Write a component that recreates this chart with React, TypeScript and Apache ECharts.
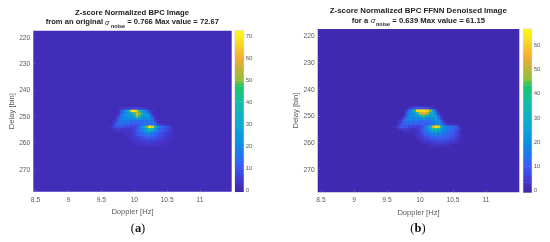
import React, { useEffect, useRef } from "react";
import * as echarts from "echarts";

const dopplerBins = [9.64, 9.68, 9.72, 9.76, 9.8, 9.84, 9.88, 9.92, 9.96, 10, 10.04, 10.08, 10.12, 10.16, 10.2, 10.24, 10.28, 10.32, 10.36, 10.4, 10.44, 10.48, 10.52, 10.56, 10.6, 10.64];
const delayBins = [247, 248, 249, 250, 251, 252, 253, 254, 255, 256, 257, 258, 259, 260, 261];

const originalRows = [
  [1, 1, 1, 1, 3, 4, 5, 5, 6, 6, 6, 6, 5, 4, 3, 1, 1, 1, 1, 1, 1, 1, 1, 1, 1, 1],
  [1, 1, 1, 3, 8, 18, 24, 38, 66, 72, 62, 42, 28, 22, 14, 5, 3, 1, 1, 1, 1, 1, 1, 1, 1, 1],
  [1, 1, 1, 3, 10, 18, 22, 26, 34, 46, 58, 50, 30, 26, 24, 10, 3, 1, 1, 1, 1, 1, 1, 1, 1, 1],
  [1, 1, 3, 6, 14, 20, 22, 24, 26, 28, 52, 40, 26, 24, 26, 20, 6, 3, 1, 1, 1, 1, 1, 1, 1, 1],
  [1, 1, 4, 10, 18, 20, 20, 22, 20, 20, 24, 22, 20, 20, 20, 22, 12, 4, 1, 1, 1, 1, 1, 1, 1, 1],
  [1, 3, 6, 14, 16, 18, 16, 16, 14, 14, 14, 14, 14, 14, 14, 16, 16, 8, 3, 1, 1, 1, 1, 1, 1, 1],
  [1, 4, 10, 14, 14, 14, 12, 12, 10, 10, 10, 10, 12, 14, 14, 14, 16, 12, 5, 3, 3, 2, 2, 1, 1, 1],
  [3, 6, 9, 9, 9, 8, 7, 7, 6, 6, 8, 14, 24, 34, 50, 70, 64, 38, 22, 15, 11, 9, 7, 4, 2, 1],
  [1, 3, 4, 5, 4, 4, 4, 4, 5, 6, 9, 15, 20, 26, 34, 42, 34, 24, 16, 12, 10, 8, 6, 4, 2, 1],
  [1, 1, 2, 3, 3, 3, 3, 3, 4, 6, 9, 13, 16, 20, 24, 24, 20, 16, 12, 10, 8, 6, 5, 3, 2, 1],
  [1, 1, 1, 1, 1, 2, 3, 3, 4, 6, 8, 10, 12, 14, 16, 16, 14, 12, 10, 8, 7, 5, 4, 3, 2, 1],
  [1, 1, 1, 1, 1, 1, 2, 3, 4, 5, 6, 7, 8, 10, 11, 11, 10, 9, 8, 7, 5, 4, 3, 3, 2, 1],
  [1, 1, 1, 1, 1, 1, 1, 2, 3, 3, 4, 5, 6, 6, 7, 7, 7, 6, 5, 5, 4, 3, 3, 2, 1, 1],
  [1, 1, 1, 1, 1, 1, 1, 1, 2, 3, 3, 4, 4, 4, 5, 5, 4, 4, 4, 3, 3, 3, 2, 2, 1, 1],
  [1, 1, 1, 1, 1, 1, 1, 1, 1, 2, 2, 3, 3, 3, 3, 3, 3, 3, 3, 2, 2, 2, 2, 1, 1, 1],
];

const denoisedRows = [
  [0, 0, 0, 0, 0, 3, 6, 8, 8, 8, 8, 7, 6, 4, 2, 0, 0, 0, 0, 0, 0, 0, 0, 0, 0, 0],
  [0, 0, 0, 0, 6, 14, 22, 40, 60, 62, 62, 62, 58, 45, 24, 8, 0, 0, 0, 0, 0, 0, 0, 0, 0, 0],
  [0, 0, 0, 0, 8, 16, 22, 24, 32, 52, 54, 54, 48, 30, 28, 16, 4, 0, 0, 0, 0, 0, 0, 0, 0, 0],
  [0, 0, 0, 3, 12, 18, 20, 22, 24, 28, 44, 40, 28, 24, 26, 24, 10, 2, 0, 0, 0, 0, 0, 0, 0, 0],
  [0, 0, 2, 8, 16, 18, 18, 18, 18, 20, 22, 20, 18, 18, 20, 24, 16, 6, 0, 0, 0, 0, 0, 0, 0, 0],
  [0, 2, 5, 12, 14, 14, 14, 14, 14, 12, 12, 12, 12, 14, 16, 20, 20, 12, 3, 0, 0, 0, 0, 0, 0, 0],
  [0, 3, 8, 12, 12, 12, 10, 10, 10, 10, 10, 10, 10, 12, 14, 18, 20, 16, 8, 2, 2, 2, 1, 0, 0, 0],
  [2, 6, 9, 9, 8, 6, 6, 6, 5, 5, 8, 12, 22, 34, 52, 62, 60, 38, 22, 16, 14, 13, 11, 8, 3, 0],
  [0, 3, 4, 5, 4, 4, 2, 2, 4, 6, 9, 14, 18, 26, 36, 42, 34, 26, 20, 16, 14, 13, 11, 8, 4, 0],
  [0, 0, 0, 2, 2, 2, 0, 2, 3, 5, 9, 12, 16, 20, 24, 26, 22, 20, 16, 14, 13, 11, 9, 6, 3, 0],
  [0, 0, 0, 0, 0, 0, 0, 2, 3, 5, 7, 10, 12, 14, 16, 17, 16, 14, 13, 12, 11, 9, 8, 6, 4, 0],
  [0, 0, 0, 0, 0, 0, 0, 0, 2, 3, 5, 7, 8, 10, 12, 12, 12, 11, 11, 10, 9, 8, 6, 5, 2, 0],
  [0, 0, 0, 0, 0, 0, 0, 0, 0, 2, 3, 5, 5, 7, 7, 8, 8, 8, 8, 7, 6, 6, 5, 3, 2, 0],
  [0, 0, 0, 0, 0, 0, 0, 0, 0, 0, 2, 2, 3, 4, 4, 5, 5, 5, 5, 4, 4, 3, 3, 2, 0, 0],
  [0, 0, 0, 0, 0, 0, 0, 0, 0, 0, 0, 0, 2, 2, 2, 3, 3, 3, 2, 2, 2, 0, 0, 0, 0, 0],
];

const dopplerTicks = [8.5, 9, 9.5, 10, 10.5, 11];
const delayTicks = [220, 230, 240, 250, 260, 270];
const originalBarTicks = [0, 10, 20, 30, 40, 50, 60, 70];
const denoisedBarTicks = [0, 10, 20, 30, 40, 50, 60];

const stopFractions = [0, 0.06, 0.16, 0.29, 0.42, 0.56, 0.655, 0.69, 0.83, 0.95, 1];
const stopColors = ["#3e26a8", "#4434c8", "#3a5cf4", "#0e8ce6", "#0caad2", "#16bea0", "#1ec468", "#8cbe3c", "#f5aa32", "#fae61e", "#fafa14"];

function colorAt(value: number, lo: number, hi: number) {
  const t = Math.min(1, Math.max(0, (value - lo) / (hi - lo)));
  for (let i = 1; i < stopFractions.length; i++) {
    if (t <= stopFractions[i]) {
      const f = (t - stopFractions[i - 1]) / (stopFractions[i] - stopFractions[i - 1]);
      return echarts.color.lerp(f, [stopColors[i - 1], stopColors[i]]);
    }
  }
  return stopColors[stopColors.length - 1];
}

function heatData(rows: number[][]) {
  const out: number[][] = [];
  rows.forEach((row, r) => row.forEach((v, c) => out.push([dopplerBins[c], delayBins[r], v])));
  return out;
}

function heatSeries(idx: number, rows: number[][], lo: number, hi: number) {
  return {
    type: "custom",
    xAxisIndex: idx,
    yAxisIndex: idx,
    data: heatData(rows),
    silent: true,
    renderItem: (_p: any, api: any) => {
      const d = api.value(0), y = api.value(1), v = api.value(2);
      const a = api.coord([d - 0.02, y - 0.5]);
      const b = api.coord([d + 0.02, y + 0.5]);
      return {
        type: "rect",
        shape: { x: a[0], y: a[1], width: b[0] - a[0] + 0.3, height: b[1] - a[1] + 0.3 },
        style: { fill: colorAt(v, lo, hi) },
      };
    },
  };
}

function barSeries(idx: number, lo: number, hi: number) {
  const data = stopFractions.slice(1).map((f, i) => [lo + stopFractions[i] * (hi - lo), lo + f * (hi - lo), i]);
  return {
    type: "custom",
    xAxisIndex: idx,
    yAxisIndex: idx,
    data,
    silent: true,
    encode: { y: [0, 1] },
    renderItem: (p: any, api: any) => {
      const from = api.coord([0, api.value(0)]);
      const to = api.coord([0, api.value(1)]);
      const i = api.value(2);
      const cs = p.coordSys;
      return {
        type: "rect",
        shape: { x: cs.x, y: to[1], width: cs.width, height: from[1] - to[1] + 0.3 },
        style: {
          fill: new echarts.graphic.LinearGradient(0, 1, 0, 0, [
            { offset: 0, color: stopColors[i] },
            { offset: 1, color: stopColors[i + 1] },
          ]),
        },
      };
    },
  };
}

const grey = "#5a5a5a";
const serifFont = "Liberation Serif";
const sansFont = "Liberation Sans";

function heatAxes(gridIndex: number, xMin: number, xMax: number, yMin: number, yMax: number) {
  const line = { show: false };
  return {
    x: {
      type: "value", gridIndex, min: xMin, max: xMax, splitLine: { show: false }, axisLine: line,
      axisTick: { show: true, inside: true, length: 2, lineStyle: { color: "#888", width: 0.5 }, customValues: dopplerTicks },
      axisLabel: { customValues: dopplerTicks, fontSize: 6.7, color: grey, fontFamily: sansFont, margin: 4, showMinLabel: true, showMaxLabel: true },
      name: "Doppler [Hz]", nameLocation: "middle", nameGap: 12, nameTextStyle: { fontSize: 7.6, color: grey, fontFamily: sansFont },
    },
    y: {
      type: "value", gridIndex, inverse: true, min: yMin, max: yMax, splitLine: { show: false }, axisLine: line,
      axisTick: { show: true, inside: true, length: 2, lineStyle: { color: "#888", width: 0.5 }, customValues: delayTicks },
      axisLabel: { customValues: delayTicks, fontSize: 6.7, color: grey, fontFamily: sansFont, margin: 3 },
      name: "Delay [bin]", nameLocation: "middle", nameGap: 16, nameTextStyle: { fontSize: 7.6, color: grey, fontFamily: sansFont },
    },
  };
}

function barAxes(gridIndex: number, lo: number, hi: number, ticks: number[]) {
  return {
    x: { type: "value", gridIndex, min: 0, max: 1, show: false },
    y: {
      type: "value", gridIndex, position: "right", min: lo, max: hi, splitLine: { show: false }, axisLine: { show: false },
      axisTick: { show: false, customValues: ticks },
      axisLabel: { customValues: ticks, fontSize: 6.1, color: grey, fontFamily: sansFont, margin: 2 },
    },
  };
}

function txt(x: number, y: number, text: string, size: number, align = "center", style = "normal", weight: any = "bold") {
  return {
    type: "text", x, y,
    style: { text, x: 0, y: 0, fontSize: size, fontWeight: weight, fontStyle: style, fontFamily: sansFont, fill: "#222", align, verticalAlign: "middle" },
  };
}

const ORIG = { lo: -1.2, hi: 72.4 };
const DENO = { lo: -1.1, hi: 66.4 };

export default function App() {
  const ref = useRef<HTMLDivElement>(null);
  useEffect(() => {
    document.body.style.margin = "0";
    const chart = echarts.init(ref.current!, undefined, { renderer: "svg" });
    const a = heatAxes(0, 8.467, 11.48, 217.5, 278.6);
    const b = heatAxes(2, 8.45, 11.505, 217.4, 278.6);
    const ca = barAxes(1, ORIG.lo, ORIG.hi, originalBarTicks);
    const cb = barAxes(3, DENO.lo, DENO.hi, denoisedBarTicks);
    chart.setOption({
      animation: false,
      backgroundColor: "#fff",
      grid: [
        { left: 33.3, top: 30.7, width: 198.4, height: 161, show: true, backgroundColor: colorAt(1, ORIG.lo, ORIG.hi), borderWidth: 0 },
        { left: 235, top: 30.7, width: 8.7, height: 161, show: true, borderColor: "#aaa", borderWidth: 0.5, backgroundColor: "#fff" },
        { left: 317.7, top: 29, width: 201.6, height: 163.3, show: true, backgroundColor: colorAt(0, DENO.lo, DENO.hi), borderWidth: 0 },
        { left: 523.3, top: 29, width: 8.4, height: 163.3, show: true, borderColor: "#aaa", borderWidth: 0.5, backgroundColor: "#fff" },
      ],
      xAxis: [a.x, ca.x, b.x, cb.x],
      yAxis: [a.y, ca.y, b.y, cb.y],
      series: [
        heatSeries(0, originalRows, ORIG.lo, ORIG.hi),
        barSeries(1, ORIG.lo, ORIG.hi),
        heatSeries(2, denoisedRows, DENO.lo, DENO.hi),
        barSeries(3, DENO.lo, DENO.hi),
      ],
      graphic: [
        txt(132, 12, "Z-score Normalized BPC Image", 7.7),
        txt(45.7, 21.5, "from an original", 7.6, "left"),
        txt(105, 22, "σ", 7, "left", "italic", "normal"),
        txt(111, 25.5, "noise", 5.4, "left"),
        txt(127.3, 21.5, "= 0.766 Max value = 72.67", 7.6, "left"),
        txt(418.3, 10.5, "Z-score Normalized BPC FFNN Denoised Image", 7.85),
        txt(351.7, 20, "for a", 7.6, "left"),
        txt(371, 20.5, "σ", 7, "left", "italic", "normal"),
        txt(376, 24, "noise", 5.4, "left"),
        txt(392.3, 20, "= 0.639 Max value = 61.15", 7.7, "left"),
        {
          type: "text", x: 138, y: 228,
          style: { text: "{p|(}{b|a}{p|)}", align: "center", verticalAlign: "middle", rich: { p: { fontSize: 12.5, fontFamily: serifFont, fill: "#111" }, b: { fontSize: 12.5, fontFamily: serifFont, fontWeight: "bold", fill: "#111" } } },
        },
        {
          type: "text", x: 418, y: 228,
          style: { text: "{p|(}{b|b}{p|)}", align: "center", verticalAlign: "middle", rich: { p: { fontSize: 12.5, fontFamily: serifFont, fill: "#111" }, b: { fontSize: 12.5, fontFamily: serifFont, fontWeight: "bold", fill: "#111" } } },
        },
      ],
    });
    return () => chart.dispose();
  }, []);
  return <div ref={ref} style={{ position: "absolute", left: 0, top: 0, width: 550, height: 242, filter: "blur(0.55px)" }} />;
}
